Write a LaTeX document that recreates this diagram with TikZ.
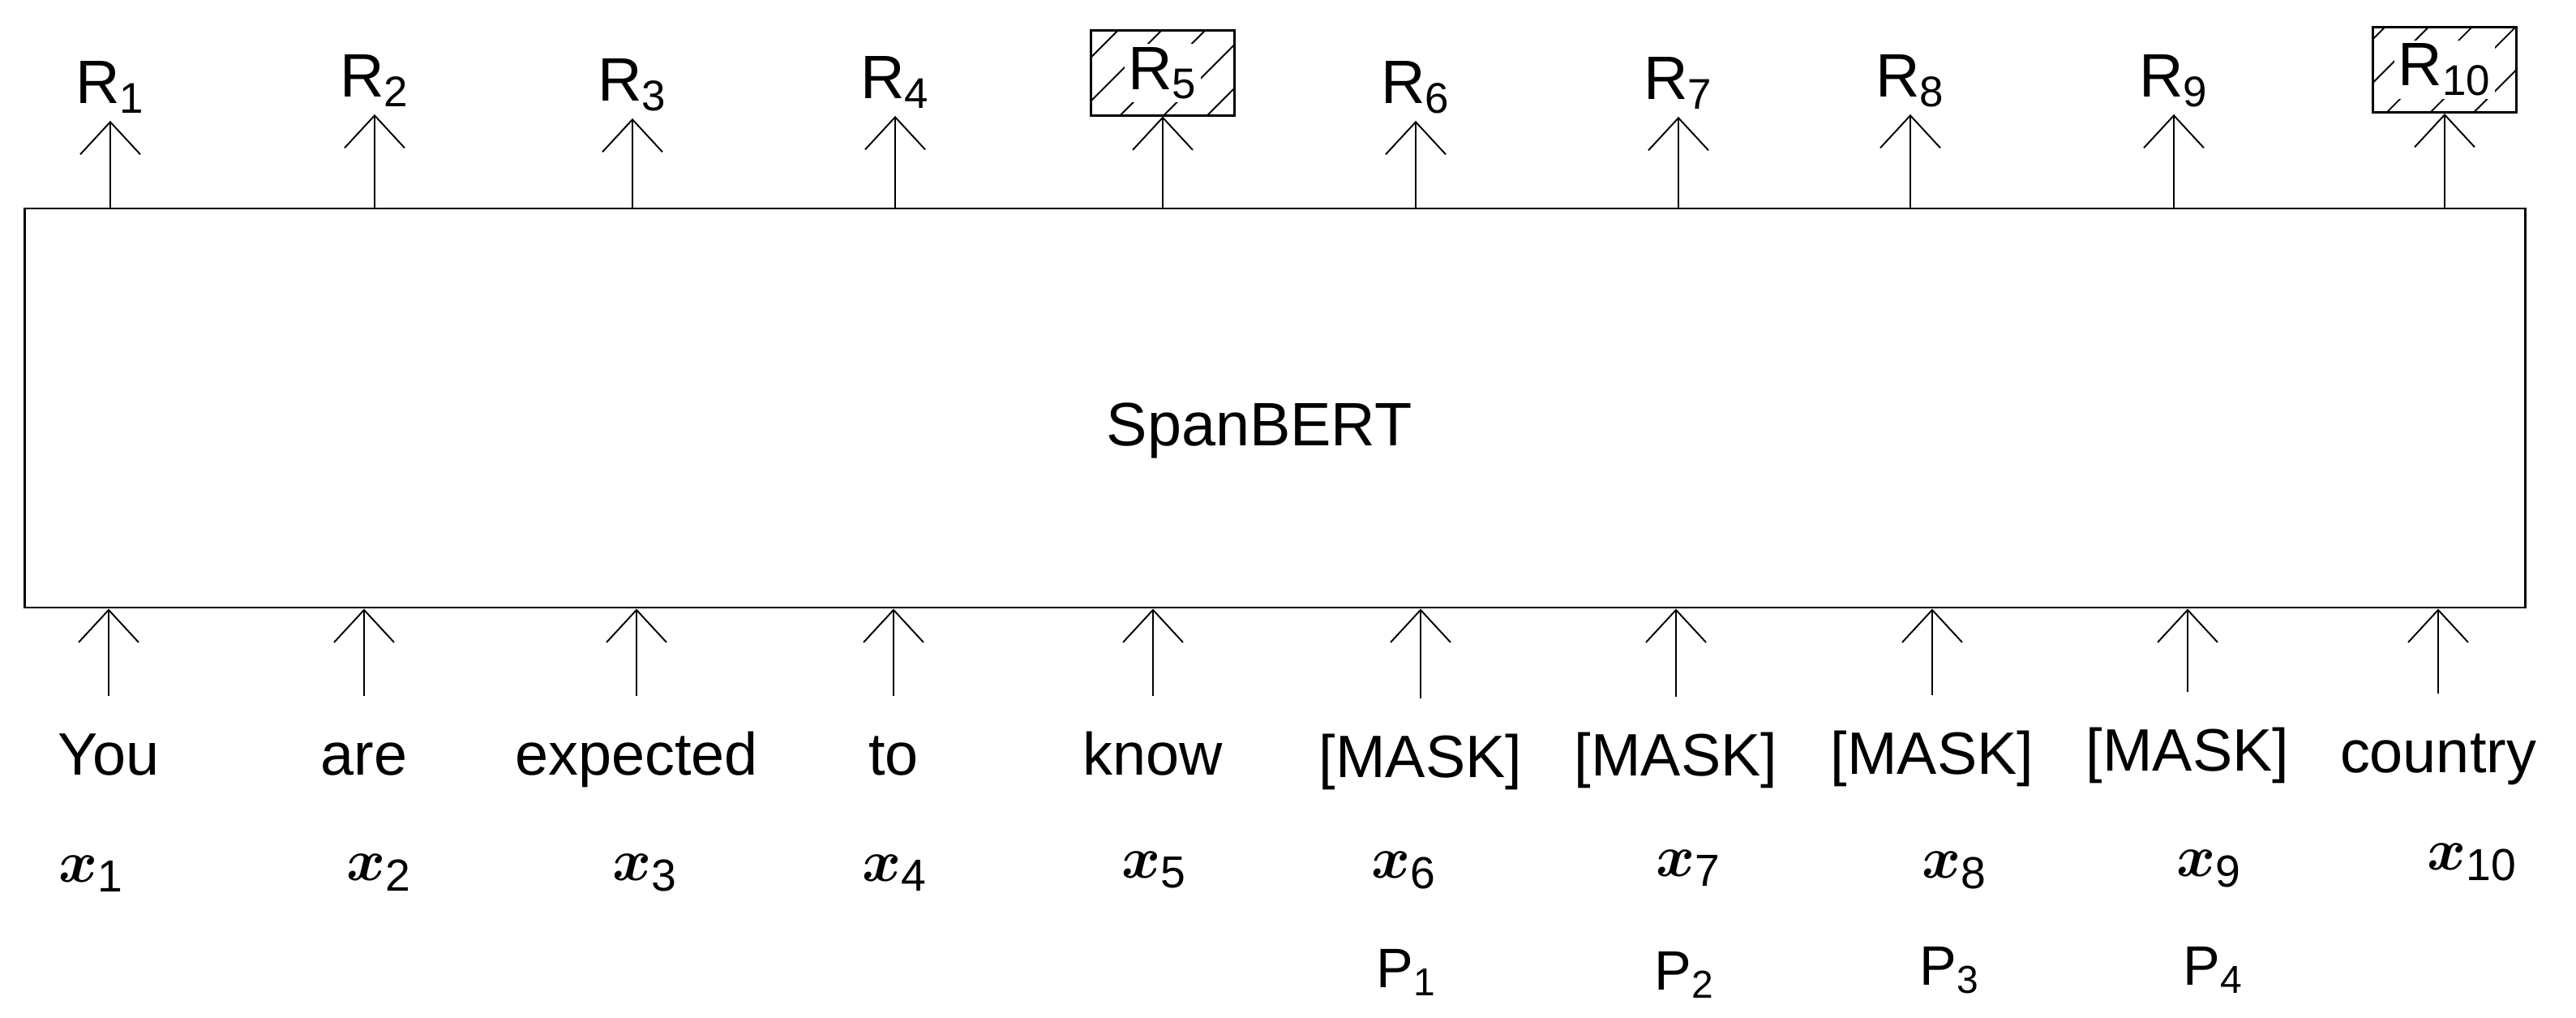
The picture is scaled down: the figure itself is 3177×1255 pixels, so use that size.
\documentclass[tikz,border=0pt]{standalone}
\usepackage{amsmath,bm}
\usepackage{fontspec}
\setmainfont{Liberation Sans}
\usetikzlibrary{arrows.meta,patterns.meta}

\begin{document}
\begin{tikzpicture}[x=0.1mm,y=-0.1mm,->,>={Straight Barb[length=4mm,width=7.4mm]},line width=0.55pt,
  model/.style={draw,line width=0.85pt,minimum width=308.4mm,minimum height=49.2mm,inner sep=0pt},
  tok/.style={anchor=base,font=\fontsize{21}{25}\selectfont,text height=16pt,text depth=4pt,inner ysep=4mm},
  rep/.style={anchor=base,font=\fontsize{21.5}{25}\selectfont,text depth=3.4pt,inner ysep=0.8mm},
  masked/.style={draw,line width=0.85pt,minimum width=17.7mm,minimum height=10.5mm,inner sep=0pt,
    pattern={Lines[angle=45,distance=3.8mm,line width=0.55pt]}},
  maskedtext/.style={fill=white,inner sep=0.4mm,font=\fontsize{21.5}{25}\selectfont},
  emb/.style={anchor=base,font=\fontsize{22.5}{26}\selectfont},
  posid/.style={anchor=base,font=\fontsize{19.5}{23}\selectfont}]
\path[use as bounding box] (0,0) rectangle (3177,1255);
\node[model] (S) at (1572,503) {};
\node[anchor=base,font=\fontsize{21.5}{25}\selectfont] (Sname) at (1553,550) {SpanBERT};
% outputs
\node[rep] (R1) at (136,128) {R\textsubscript{1}};
\node[rep] (R2) at (462,120) {R\textsubscript{2}};
\node[rep] (R3) at (780,125) {R\textsubscript{3}};
\node[rep] (R4) at (1104,122) {R\textsubscript{4}};
\node[masked] (R5) at (1434,90) {};
\node[maskedtext] (R5t) at (R5) {R\textsubscript{5}};
\node[rep] (R6) at (1746,128) {R\textsubscript{6}};
\node[rep] (R7) at (2070,123) {R\textsubscript{7}};
\node[rep] (R8) at (2356,120) {R\textsubscript{8}};
\node[rep] (R9) at (2681,120) {R\textsubscript{9}};
\node[masked] (R10) at (3015,86) {};
\node[maskedtext] (R10t) at (R10) {R\textsubscript{10}};
% inputs
\node[tok] (W1) at (134,955) {You};
\node[tok] (W2) at (449,955) {are};
\node[tok] (W3) at (785,955) {expected};
\node[tok] (W4) at (1102,955) {to};
\node[tok] (W5) at (1422,955) {know};
\node[tok] (W6) at (1752,958) {[MASK]};
\node[tok] (W7) at (2067,956) {[MASK]};
\node[tok] (W8) at (2383,954) {[MASK]};
\node[tok] (W9) at (2698,950) {[MASK]};
\node[tok] (W10) at (3007,952) {country};
\node[emb] (X1) at (113,1087) {$\bm{x}_{\mathrm{1}}$};
\node[emb] (X2) at (468,1085) {$\bm{x}_{\mathrm{2}}$};
\node[emb] (X3) at (796,1085) {$\bm{x}_{\mathrm{3}}$};
\node[emb] (X4) at (1104,1086) {$\bm{x}_{\mathrm{4}}$};
\node[emb] (X5) at (1424,1082) {$\bm{x}_{\mathrm{5}}$};
\node[emb] (X6) at (1732,1082) {$\bm{x}_{\mathrm{6}}$};
\node[emb] (X7) at (2083,1080) {$\bm{x}_{\mathrm{7}}$};
\node[emb] (X8) at (2411,1082) {$\bm{x}_{\mathrm{8}}$};
\node[emb] (X9) at (2725,1080) {$\bm{x}_{\mathrm{9}}$};
\node[emb] (X10) at (3049,1072) {$\bm{x}_{\mathrm{10}}$};
\node[posid] (P1) at (1735,1217) {P\textsubscript{1}};
\node[posid] (P2) at (2078,1220) {P\textsubscript{2}};
\node[posid] (P3) at (2405,1214) {P\textsubscript{3}};
\node[posid] (P4) at (2730,1214) {P\textsubscript{4}};
% arrows
\path (R1 |- S.north) edge (R1);
\path (R2 |- S.north) edge (R2);
\path (R3 |- S.north) edge (R3);
\path (R4 |- S.north) edge (R4);
\path (R5 |- S.north) edge (R5);
\path (R6 |- S.north) edge (R6);
\path (R7 |- S.north) edge (R7);
\path (R8 |- S.north) edge (R8);
\path (R9 |- S.north) edge (R9);
\path (R10 |- S.north) edge (R10);
\path (W1) edge (W1 |- S.south);
\path (W2) edge (W2 |- S.south);
\path (W3) edge (W3 |- S.south);
\path (W4) edge (W4 |- S.south);
\path (W5) edge (W5 |- S.south);
\path (W6) edge (W6 |- S.south);
\path (W7) edge (W7 |- S.south);
\path (W8) edge (W8 |- S.south);
\path (W9) edge (W9 |- S.south);
\path (W10) edge (W10 |- S.south);
\end{tikzpicture}
\end{document}
